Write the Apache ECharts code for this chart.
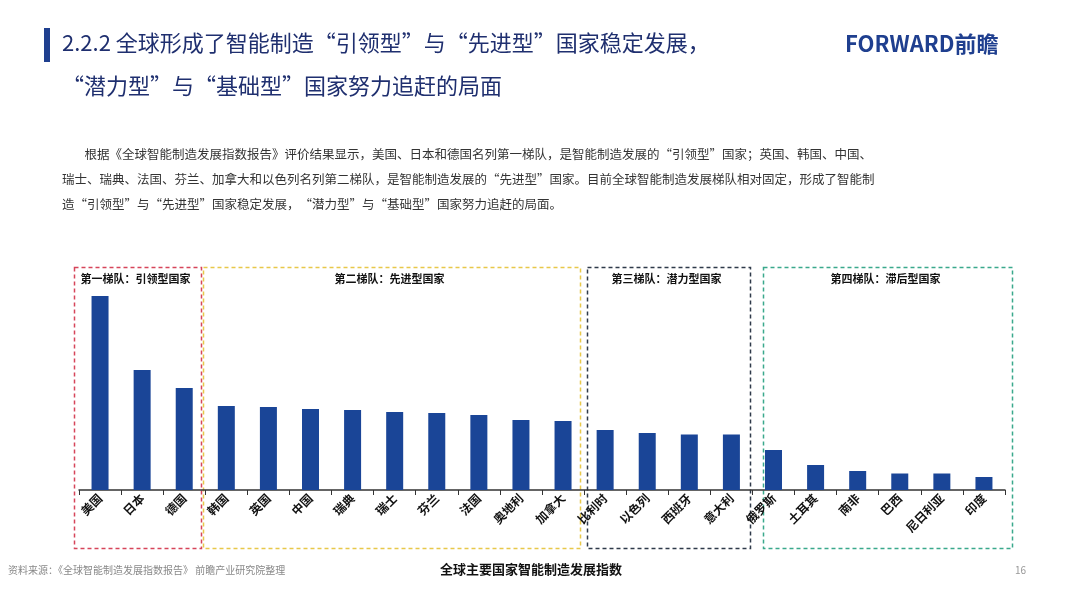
<!DOCTYPE html>
<html>
<head>
<meta charset="utf-8">
<script src="https://cdn.jsdelivr.net/npm/echarts@6/dist/echarts.min.js"></script>
<style>
html,body{margin:0;padding:0;background:#fff;}
#main{width:1080px;height:595px;}
</style>
</head>
<body>
<div id="main"></div>
<script>
// 国家
var countries = ['美国', '日本', '德国', '韩国', '英国', '中国', '瑞典', '瑞士', '芬兰', '法国', '奥地利', '加拿大',
    '比利时', '以色列', '西班牙', '意大利', '俄罗斯', '土耳其', '南非', '巴西', '尼日利亚', '印度'];
// 指数
var values = [194, 120, 102, 84, 83, 81, 80, 78, 77, 75, 70, 69, 60, 57, 55.5, 55.5, 40, 25, 19, 16.5, 16.5, 13];
var tierNames = ['第一梯队：引领型国家', '第二梯队：先进型国家', '第三梯队：潜力型国家', '第四梯队：滞后型国家'];

var font = '"Noto Sans CJK SC", sans-serif';
var para = [
    '        根据《全球智能制造发展指数报告》评价结果显示，美国、日本和德国名列第一梯队，是智能制造发展的“引领型”国家；英国、韩国、中国、',
    '瑞士、瑞典、法国、芬兰、加拿大和以色列名列第二梯队，是智能制造发展的“先进型”国家。目前全球智能制造发展梯队相对固定，形成了智能制',
    '造“引领型”与“先进型”国家稳定发展，“潜力型”与“基础型”国家努力追赶的局面。'
];

// 梯队框
var boxes = [
    {x: 72, w: 127, color: '#d6455a'},
    {x: 201, w: 377, color: '#e8c84a'},
    {x: 585, w: 163, color: '#2f3a4a'},
    {x: 761, w: 249, color: '#3aa98c'}
];

var graphics = [
    {type: 'rect', left: 44, top: 28, shape: {width: 6, height: 34}, style: {fill: '#1f3f8f'}},
    {type: 'text', left: 62, top: 32, style: {text: '2.2.2 全球形成了智能制造“引领型”与“先进型”国家稳定发展，', font: '22px ' + font, fill: '#1f2f6f'}},
    {type: 'text', left: 62, top: 75, style: {text: '“潜力型”与“基础型”国家努力追赶的局面', font: '22px ' + font, fill: '#1f2f6f'}},
    {type: 'text', left: 845, top: 33, style: {text: 'FORWARD前瞻', font: 'bold 22px ' + font, fill: '#1f3f8f'}},
    {type: 'text', left: 8, top: 565, style: {text: '资料来源：《全球智能制造发展指数报告》 前瞻产业研究院整理', font: '10px ' + font, fill: '#888'}},
    {type: 'text', left: 440, top: 563, style: {text: '全球主要国家智能制造发展指数', font: 'bold 13px ' + font, fill: '#111'}},
    {type: 'text', left: 1015, top: 565, style: {text: '16', font: '10px ' + font, fill: '#999'}}
];
para.forEach(function (t, i) {
    graphics.push({type: 'text', left: 62, top: 148 + i * 25, style: {text: t, font: '12.5px ' + font, fill: '#333'}});
});
boxes.forEach(function (b, i) {
    graphics.push({type: 'rect', left: b.x, top: 265, shape: {width: b.w, height: 281},
        style: {fill: 'none', stroke: b.color, lineWidth: 1.5, lineDash: [4, 3]}});
    graphics.push({type: 'text', x: b.x + b.w / 2, y: 273, style: {text: tierNames[i], font: 'bold 11px ' + font, fill: '#111', align: 'center'}});
});

var chart = echarts.init(document.getElementById('main'));
chart.setOption({
    animation: false,
    grid: {left: 79, right: 75, top: 290, bottom: 105},
    xAxis: {
        type: 'category',
        data: countries,
        axisLine: {lineStyle: {color: '#333', width: 1.5}},
        axisTick: {show: true, lineStyle: {color: '#333'}},
        axisLabel: {interval: 0, rotate: 45, fontFamily: font, fontWeight: 'bold', fontSize: 12, color: '#111', margin: 6}
    },
    yAxis: {type: 'value', min: 0, max: 200, show: false},
    series: [{
        type: 'bar',
        data: values,
        barWidth: 17,
        itemStyle: {color: '#1a4597'}
    }],
    graphic: graphics
});
</script>
</body>
</html>
